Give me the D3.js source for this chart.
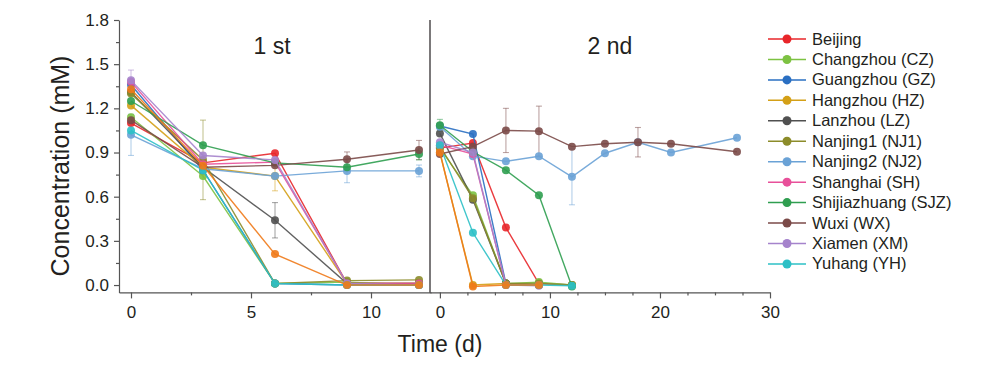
<!DOCTYPE html>
<html><head><meta charset="utf-8">
<script src="https://cdn.jsdelivr.net/npm/d3@7"></script>
<style>body{margin:0;background:#fff}svg{display:block}text{font-family:"Liberation Sans",Arial,sans-serif;fill:#231f20}</style>
</head><body><svg id="c" width="983" height="375"></svg>
<script>
// ---------- data ----------
const seriesNames = ["Beijing","Changzhou (CZ)","Guangzhou (GZ)","Hangzhou (HZ)","Lanzhou (LZ)","Nanjing1 (NJ1)","Nanjing2 (NJ2)","Shanghai (SH)","Shijiazhuang (SJZ)","Wuxi (WX)","Xiamen (XM)","Yuhang (YH)","(unlabelled)"];
const seriesColors = ["#e8262a","#7dc242","#2a6fc2","#d4a017","#505050","#8c8c2a","#6aa2d6","#e8509a","#2f9e50","#7b4a48","#a583cc","#2cc0c6","#f07a1a"];
const inLegend = [1,1,1,1,1,1,1,1,1,1,1,1,0];
const timesRun1 = [0,3,6,9,12];
const timesRun2 = [0,3,6,9,12,15,18,21,27];
// values per series (same order as seriesNames); null = no point
const run1Values = [
  [1.10,0.83,0.895,0.01,0.01],
  [1.14,0.74,0.01,0.02,0.00],
  [1.36,0.78,0.01,0.00,0.00],
  [1.22,0.80,0.74,0.01,0.01],
  [1.31,0.80,0.44,0.01,0.01],
  [1.30,0.85,0.01,0.03,0.035],
  [1.02,0.79,0.74,0.775,0.775],
  [1.38,0.82,0.835,0.01,0.01],
  [1.25,0.95,0.83,0.80,0.89],
  [1.12,0.80,0.813,0.854,0.917],
  [1.39,0.88,0.85,0.01,0.00],
  [1.05,0.78,0.01,0.00,0.00],
  [1.33,0.81,0.21,0.00,0.00]
];
const run2Values = [
  [0.93,0.965,0.39,0.01,0.00,null,null,null,null],
  [0.93,0.61,0.01,0.02,0.00,null,null,null,null],
  [1.08,1.025,0.01,0.00,null,null,null,null,null],
  [0.90,0.00,0.01,0.00,null,null,null,null,null],
  [1.03,0.58,0.01,0.00,null,null,null,null,null],
  [0.94,0.59,0.01,0.01,0.00,null,null,null,null],
  [1.075,0.875,0.84,0.875,0.735,0.895,0.97,0.90,1.00],
  [0.95,0.89,0.00,0.00,null,null,null,null,null],
  [1.085,0.905,0.78,0.61,-0.01,null,null,null,null],
  [0.89,0.94,1.05,1.045,0.94,0.96,0.97,0.96,0.905],
  [0.97,0.90,0.00,-0.005,null,null,null,null,null],
  [0.95,0.355,0.00,0.00,-0.005,null,null,null,null],
  [0.90,-0.01,0.00,0.00,null,null,null,null,null]
];
// error bars: [series index, time index, half-width]
const run1Errors = [[10,0,0.07],[6,0,0.14],[5,1,0.27],[4,2,0.12],[3,2,0.10],[9,3,0.05],[6,3,0.08],[9,4,0.065],[6,4,0.04],[8,4,0.04]];
const run2Errors = [[8,0,0.04],[9,2,0.15],[9,3,0.17],[6,4,0.19],[9,6,0.10]];
const yTicks = [0,0.3,0.6,0.9,1.2,1.5,1.8];
const x1Ticks = [0,5,10];
const x2Ticks = [0,10,20,30];

// ---------- drawing ----------
const svg = d3.select("#c");
const y = d3.scaleLinear().domain([-0.05,1.8]).range([292.4,20]);
const x1 = d3.scaleLinear().domain([-0.5,12.5]).range([119,431]);
const x2 = d3.scaleLinear().domain([-0.9,30]).range([430,770]);
const axisColor = "#555";

function styleAxis(g){
  g.selectAll("path.domain").attr("stroke",axisColor).attr("stroke-width",1.2);
  g.selectAll(".tick line").attr("stroke",axisColor).attr("stroke-width",1.2);
  g.selectAll(".tick text").attr("font-size",17).attr("fill","#231f20").attr("font-family","Liberation Sans, Arial, sans-serif");
}
// Y axis
const yAx = svg.append("g").attr("transform","translate(119,0)")
  .call(d3.axisLeft(y).tickValues(yTicks).tickFormat(d3.format(".1f")).tickSize(5).tickSizeOuter(0).tickPadding(5));
styleAxis(yAx);
const yMinor = d3.range(0.15,1.8,0.3);
svg.append("g").attr("transform","translate(119,0)")
  .call(d3.axisLeft(y).tickValues(yMinor).tickFormat("").tickSize(3).tickSizeOuter(0))
  .call(g=>{g.select("path.domain").remove();styleAxis(g);});
// X axes
const xa1 = svg.append("g").attr("transform","translate(0,292.4)")
  .call(d3.axisBottom(x1).tickValues(x1Ticks).tickSize(6).tickSizeOuter(0).tickPadding(8));
styleAxis(xa1);
svg.append("g").attr("transform","translate(0,292.4)")
  .call(d3.axisBottom(x1).tickValues([2.5,7.5]).tickFormat("").tickSize(3).tickSizeOuter(0))
  .call(g=>{g.select("path.domain").remove();styleAxis(g);});
const xa2 = svg.append("g").attr("transform","translate(0,292.4)")
  .call(d3.axisBottom(x2).tickValues(x2Ticks).tickSize(6).tickSizeOuter(0).tickPadding(8));
styleAxis(xa2);
svg.append("g").attr("transform","translate(0,292.4)")
  .call(d3.axisBottom(x2).tickValues(d3.range(2.5,30,2.5).filter(v=>v%10!==0)).tickFormat("").tickSize(3).tickSizeOuter(0))
  .call(g=>{g.select("path.domain").remove();styleAxis(g);});
// divider
svg.append("line").attr("x1",430).attr("x2",430).attr("y1",y(1.8)).attr("y2",y(-0.05))
  .attr("stroke","#231f20").attr("stroke-width",1.2);

// panel labels
svg.append("text").attr("x",272).attr("y",54).attr("text-anchor","middle").attr("font-size",23).text("1 st");
svg.append("text").attr("x",610).attr("y",54).attr("text-anchor","middle").attr("font-size",23).text("2 nd");
// axis titles
svg.append("text").attr("transform","translate(69,166) rotate(-90)").attr("text-anchor","middle").attr("font-size",25).text("Concentration (mM)");
svg.append("text").attr("x",440).attr("y",352).attr("text-anchor","middle").attr("font-size",23).text("Time (d)");

function drawRun(xs, times, values, errors){
  const g = svg.append("g");
  // error bars
  errors.forEach(([si,ti,e])=>{
    const v = values[si][ti]; const cx = xs(times[ti]);
    const c = seriesColors[si];
    const eg = g.append("g").attr("stroke",c).attr("stroke-opacity",0.5).attr("stroke-width",1.1);
    eg.append("line").attr("x1",cx).attr("x2",cx).attr("y1",y(v-e)).attr("y2",y(v+e));
    eg.append("line").attr("x1",cx-3).attr("x2",cx+3).attr("y1",y(v-e)).attr("y2",y(v-e));
    eg.append("line").attr("x1",cx-3).attr("x2",cx+3).attr("y1",y(v+e)).attr("y2",y(v+e));
  });
  const line = d3.line().defined(d=>d.v!==null).x(d=>xs(d.t)).y(d=>y(d.v));
  values.forEach((vals,si)=>{
    const pts = vals.map((v,i)=>({t:times[i],v}));
    g.append("path").datum(pts).attr("d",line).attr("fill","none")
      .attr("stroke",seriesColors[si]).attr("stroke-width",1.4).attr("stroke-opacity",0.9);
    g.selectAll(null).data(pts.filter(d=>d.v!==null)).enter().append("circle")
      .attr("cx",d=>xs(d.t)).attr("cy",d=>y(d.v)).attr("r",4)
      .attr("fill",seriesColors[si]).attr("fill-opacity",0.9);
  });
}
drawRun(x1, timesRun1, run1Values, run1Errors);
drawRun(x2, timesRun2, run2Values, run2Errors);

// legend
const leg = svg.append("g");
const legendItems = seriesNames.map((n,i)=>({n,c:seriesColors[i],show:inLegend[i]})).filter(d=>d.show);
legendItems.forEach((d,i)=>{
  const yy = 39 + i*20.45;
  leg.append("line").attr("x1",768).attr("x2",806).attr("y1",yy).attr("y2",yy).attr("stroke",d.c).attr("stroke-width",1.5);
  leg.append("circle").attr("cx",787).attr("cy",yy).attr("r",4.5).attr("fill",d.c);
  leg.append("text").attr("x",812).attr("y",yy+5.5).attr("font-size",16.5).text(d.n);
});
</script></body></html>
